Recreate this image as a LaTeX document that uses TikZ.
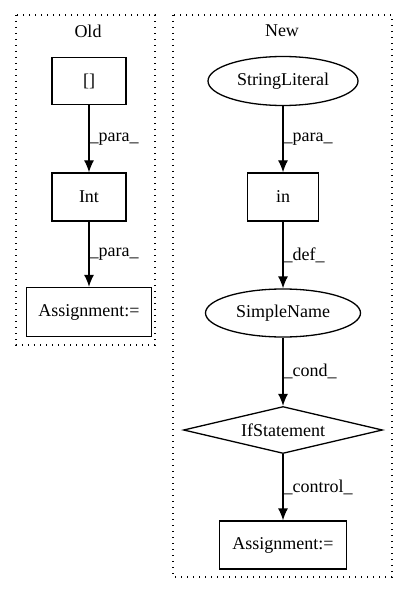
\documentclass[tikz,border=0pt]{standalone}
\usepackage{fontspec}
\setmainfont{Liberation Serif}
\usetikzlibrary{shapes.geometric,arrows.meta}
\tikzset{
  txt/.style={font=\fontsize{18}{20}\selectfont},
  box/.style={draw,rectangle,txt,line width=1.3pt,inner sep=0pt},
  oval/.style={draw,ellipse,txt,line width=1.3pt,inner sep=0pt},
  cond/.style={draw,diamond,txt,line width=1.3pt,inner sep=0pt,aspect=4.2},
  cluster/.style={line width=1.4pt,dash pattern=on 1.4pt off 4.6pt},
  edge/.style={-{Latex[length=12pt,width=10pt]},line width=1.3pt},
  elabel/.style={txt,right,inner sep=0pt}
}
\begin{document}
\begin{tikzpicture}[x=1pt,y=-1pt]
  \useasboundingbox (0,0) rectangle (408,596);
  % clusters
  \draw[cluster] (16,15) rectangle (155,345);
  \node[txt] (oldtitle) at (88,31) {Old};
  \draw[cluster] (173,15) rectangle (392,577);
  \node[txt] (newtitle) at (282,31) {New};
  % old graph
  \node[box,minimum width=74pt,minimum height=47pt] (brk) at (89,81) {[]};
  \node[box,minimum width=74pt,minimum height=48pt] (int) at (89,197) {Int};
  \node[box,minimum width=125pt,minimum height=49pt] (oldassign) at (89,312) {Assignment:=};
  \draw[edge] (brk) -- (int) node[elabel,midway] {\_para\_};
  \draw[edge] (int) -- (oldassign) node[elabel,midway] {\_para\_};
  % new graph
  \node[oval,minimum width=150pt,minimum height=49pt] (strlit) at (283,81) {StringLiteral};
  \node[box,minimum width=71pt,minimum height=48pt] (in) at (283,197) {in};
  \node[oval,minimum width=155pt,minimum height=48pt] (simple) at (283,313) {SimpleName};
  \node[cond,minimum width=199pt,minimum height=47pt] (ifst) at (283,430) {IfStatement};
  \node[box,minimum width=127pt,minimum height=48pt] (newassign) at (283,545) {Assignment:=};
  \draw[edge] (strlit) -- (in) node[elabel,midway] {\_para\_};
  \draw[edge] (in) -- (simple) node[elabel,midway] {\_def\_};
  \draw[edge] (simple) -- (ifst) node[elabel,midway] {\_cond\_};
  \draw[edge] (ifst) -- (newassign) node[elabel,midway] {\_control\_};
\end{tikzpicture}
\end{document}
